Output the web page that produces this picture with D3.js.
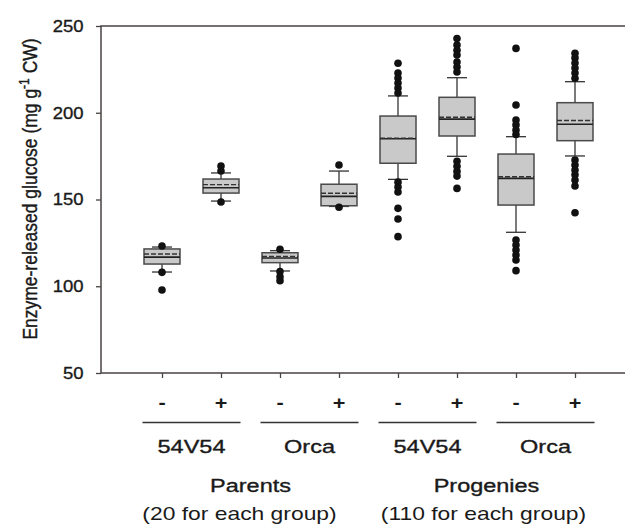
<!DOCTYPE html>
<html>
<head>
<meta charset="utf-8">
<script src="https://cdn.jsdelivr.net/npm/d3@7"></script>
<style>
  body { margin: 0; background: #fff; }
  text { font-family: "Liberation Sans", Arial, sans-serif; fill: #1a1a1a; }
  .heavy { stroke: #1a1a1a; stroke-width: 0.35px; }
</style>
</head>
<body>
<div id="chart"></div>
<script>
// box ids, left to right
var boxes = ["par54m", "par54p", "parOm", "parOp", "pro54m", "pro54p", "proOm", "proOp"];
var signs = ["-", "+", "-", "+", "-", "+", "-", "+"];
var genotypes = ["54V54", "Orca", "54V54", "Orca"];
var populations = ["Parents", "Progenies"];
var sampleNotes = ["(20 for each group)", "(110 for each group)"];
var yTicks = [50, 100, 150, 200, 250];

// box statistics (mg g-1 CW)
var q1 = [112.8, 153.7, 113.6, 146.4, 170.9, 186.6, 146.8, 183.9];
var median = [116.8, 156.8, 116.3, 151.8, 185.0, 196.3, 162.2, 193.4];
var mean = [118.6, 158.6, 117.2, 153.6, 185.4, 197.4, 163.1, 195.5];
var q3 = [121.5, 161.8, 119.3, 158.8, 198.1, 208.9, 176.2, 205.8];
var whiskerLow = [108.2, 149.1, 108.8, 146.0, 161.6, 174.9, 131.1, 175.1];
var whiskerHigh = [122.6, 165.3, 120.5, 166.4, 209.7, 220.2, 186.2, 217.9];
var outliers = [
  [123.2, 108.0, 97.8],
  [169.3, 166.4, 148.6],
  [121.3, 108.5, 105.5, 103.2],
  [169.9, 145.5],
  [228.5, 222.9, 220, 217.1, 214.2, 211.4, 160, 157.2, 154.3, 144.9, 138.8, 128.6],
  [242.8, 239, 236, 233.3, 229.2, 226.4, 223.5, 172, 169.1, 166.2, 163.5, 156.4],
  [237.1, 204.5, 195.8, 193, 190.1, 187.5, 126.7, 123.8, 120.9, 118, 115.1, 109],
  [234.3, 231.6, 228.7, 225.8, 222.9, 219.9, 172.8, 169.9, 167, 164.2, 161.2, 157.8, 142.4]
];

var width = 625, height = 526;
var svg = d3.select("#chart").append("svg")
  .attr("width", width)
  .attr("height", height);

var plotLeft = 101, plotTop = 26, plotBottom = 373;
var axisColor = "#4a4242";
var stretch = 1.27; // the figure's lettering is drawn a bit wide

var x = d3.scalePoint().domain(boxes).range([162, 575]);
var y = d3.scaleLinear().domain([50, 250]).range([plotBottom, plotTop]);

// helper: horizontally stretched text
function wideText(sel, tx, ty, sx) {
  return sel.append("text")
    .attr("transform", `translate(${tx},${ty}) scale(${sx},1)`)
    .attr("text-anchor", "middle");
}

// frame: top, left, bottom (right side runs off the picture)
svg.append("path")
  .attr("d", `M${width},${plotTop}H${plotLeft}V${plotBottom}H${width}`)
  .attr("fill", "none")
  .attr("stroke", axisColor)
  .attr("stroke-width", 1.5);

// y axis
var yAxis = d3.axisLeft(y).tickValues(yTicks).tickSize(5);
var yg = svg.append("g")
  .attr("transform", `translate(${plotLeft},0)`)
  .call(yAxis);
yg.select(".domain").remove();
yg.selectAll("line").attr("stroke", axisColor).attr("stroke-width", 1.3);
yg.selectAll("text")
  .attr("x", 0)
  .attr("class", "heavy")
  .attr("transform", "translate(-17.5,0) scale(1.12,1)")
  .style("font-size", "16.5px")
  .attr("fill", "#1a1a1a");

// x axis ticks only
var xAxis = d3.axisBottom(x).tickSize(5).tickFormat("");
var xg = svg.append("g")
  .attr("transform", `translate(0,${plotBottom})`)
  .call(xAxis);
xg.select(".domain").remove();
xg.selectAll("line").attr("stroke", axisColor).attr("stroke-width", 1.3);

// y axis title
svg.append("text")
  .attr("transform", `translate(37,189) rotate(-90) scale(1,1.2)`)
  .attr("text-anchor", "middle")
  .attr("class", "heavy")
  .style("font-size", "17.5px")
  .html('Enzyme-released glucose (mg g<tspan dy="-7" font-size="12">-1</tspan><tspan dy="7"> CW)</tspan>');

// boxes
var boxW = 36, capW = 20;
var g = svg.append("g");
boxes.forEach(function(b, i) {
  var cx = x(b);
  var grp = g.append("g");
  // whiskers
  grp.append("line")
    .attr("x1", cx).attr("x2", cx)
    .attr("y1", y(whiskerHigh[i])).attr("y2", y(q3[i]))
    .attr("stroke", "#333").attr("stroke-width", 1.3);
  grp.append("line")
    .attr("x1", cx).attr("x2", cx)
    .attr("y1", y(q1[i])).attr("y2", y(whiskerLow[i]))
    .attr("stroke", "#333").attr("stroke-width", 1.3);
  [whiskerHigh[i], whiskerLow[i]].forEach(function(v) {
    grp.append("line")
      .attr("x1", cx - capW / 2).attr("x2", cx + capW / 2)
      .attr("y1", y(v)).attr("y2", y(v))
      .attr("stroke", "#333").attr("stroke-width", 1.3);
  });
  // box
  grp.append("rect")
    .attr("x", cx - boxW / 2)
    .attr("y", y(q3[i]))
    .attr("width", boxW)
    .attr("height", y(q1[i]) - y(q3[i]))
    .attr("fill", "#c9c9c9")
    .attr("stroke", "#4a4a4a")
    .attr("stroke-width", 1.5);
  // median (solid) and mean (dashed)
  grp.append("line")
    .attr("x1", cx - boxW / 2).attr("x2", cx + boxW / 2)
    .attr("y1", y(median[i])).attr("y2", y(median[i]))
    .attr("stroke", "#222").attr("stroke-width", 1.6);
  grp.append("line")
    .attr("x1", cx - boxW / 2).attr("x2", cx + boxW / 2)
    .attr("y1", y(mean[i])).attr("y2", y(mean[i]))
    .attr("stroke", "#333").attr("stroke-width", 1.4)
    .attr("stroke-dasharray", "5,2");
  // outliers
  grp.selectAll("circle")
    .data(outliers[i])
    .enter()
    .append("circle")
    .attr("cx", cx)
    .attr("cy", d => y(d))
    .attr("r", 3.8)
    .attr("fill", "#111");
});

// +/- labels
boxes.forEach(function(b, i) {
  wideText(svg, x(b), 409, 1.2)
    .style("font-size", "18px")
    .style("font-weight", "bold")
    .text(signs[i]);
});

// genotype group lines and labels
genotypes.forEach(function(gname, k) {
  var a = x(boxes[2 * k]), b = x(boxes[2 * k + 1]);
  var mid = (a + b) / 2;
  svg.append("line")
    .attr("x1", mid - 49).attr("x2", mid + 49)
    .attr("y1", 422.5).attr("y2", 422.5)
    .attr("stroke", "#333").attr("stroke-width", 1.3);
  wideText(svg, mid, 453, stretch)
    .attr("class", "heavy")
    .style("font-size", "18.5px")
    .text(gname);
});

// population labels
var noteShift = [-11, -3];
populations.forEach(function(p, k) {
  var a = x(boxes[4 * k]), b = x(boxes[4 * k + 3]);
  var mid = (a + b) / 2;
  wideText(svg, mid, 492, stretch)
    .attr("class", "heavy")
    .style("font-size", "18.5px")
    .text(p);
  wideText(svg, mid + noteShift[k], 520, stretch)
    .style("font-size", "18px")
    .attr("fill", "#333")
    .text(sampleNotes[k]);
});
</script>
</body>
</html>
